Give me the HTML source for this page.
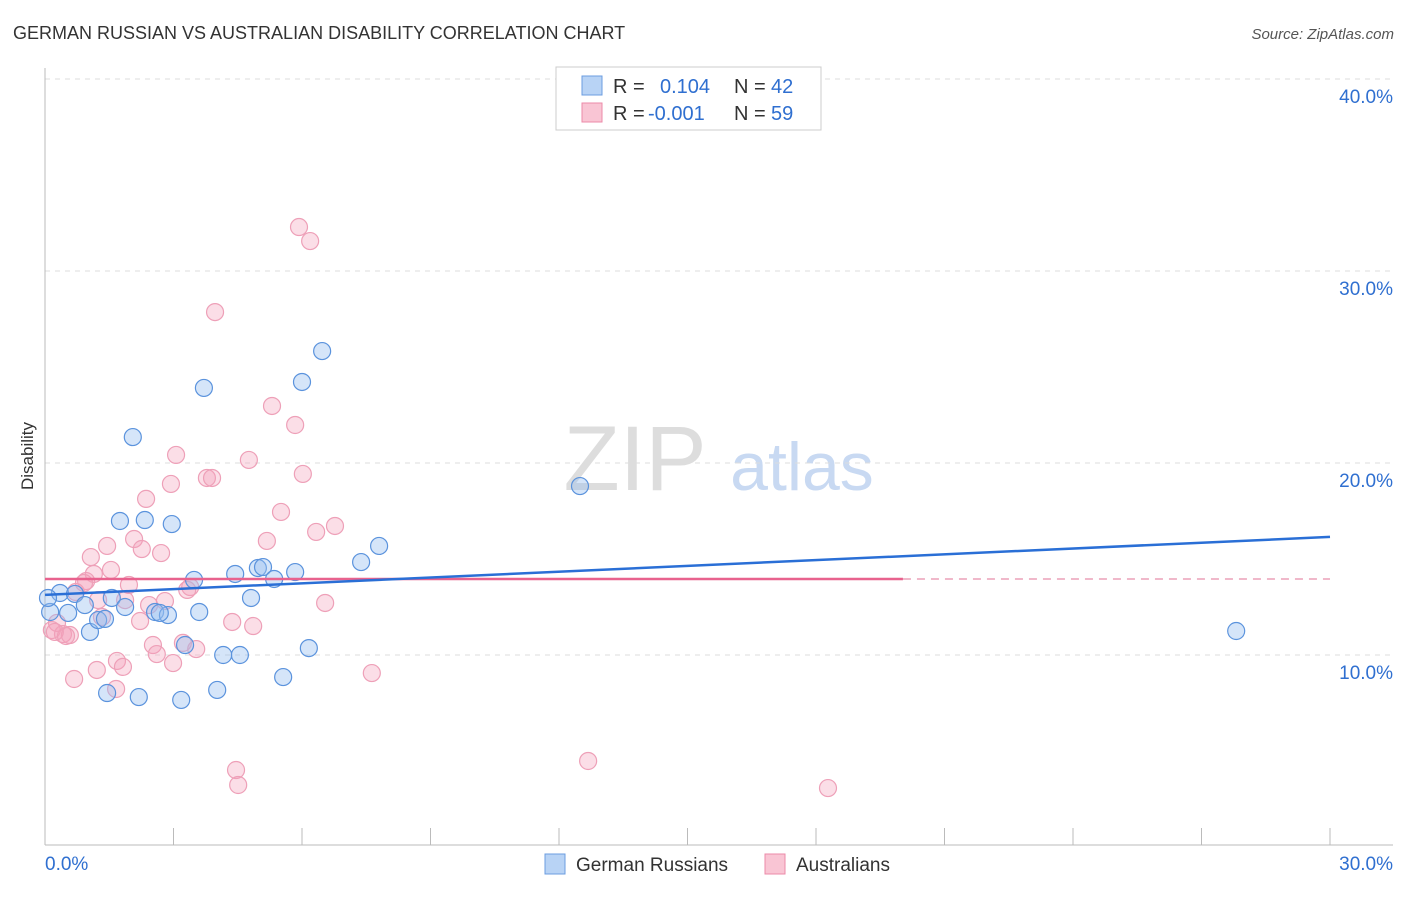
<!DOCTYPE html>
<html><head><meta charset="utf-8"><style>
body{margin:0;background:#fff;font-family:"Liberation Sans",sans-serif;}
svg text{font-family:"Liberation Sans",sans-serif;}
</style></head><body>
<svg width="1406" height="892" viewBox="0 0 1406 892">
<text x="13" y="39" font-size="18" fill="#333">GERMAN RUSSIAN VS AUSTRALIAN DISABILITY CORRELATION CHART</text>
<text x="1394" y="39" font-size="15" fill="#555" font-style="italic" text-anchor="end">Source: ZipAtlas.com</text>
<text x="33" y="456" font-size="17" fill="#333" text-anchor="middle" transform="rotate(-90 33 456)">Disability</text>
<g>
<text x="635" y="490" font-size="92" fill="#ddd" font-family="Liberation Serif,serif" text-anchor="middle">ZIP</text>
<text x="802" y="490" font-size="68" fill="#c8d9f2" text-anchor="middle">atlas</text>
</g>
<g id="grid"></g>
<g id="axes"></g>
<g id="marks"></g>
<g>
<rect x="556" y="67" width="265" height="63" fill="#fff" stroke="#ccc"/>
<rect x="582" y="76" width="20" height="19" fill="#b8d3f5" stroke="#6b9de0"/>
<rect x="582" y="103" width="20" height="19" fill="#f9c5d4" stroke="#ec8aa8"/>
<text x="613" y="93" font-size="20" fill="#333">R =</text><text x="660" y="93" font-size="20" fill="#2f6fd0">0.104</text>
<text x="734" y="93" font-size="20" fill="#333">N =</text><text x="771" y="93" font-size="20" fill="#2f6fd0">42</text>
<text x="613" y="120" font-size="20" fill="#333">R =</text><text x="648" y="120" font-size="20" fill="#2f6fd0">-0.001</text>
<text x="734" y="120" font-size="20" fill="#333">N =</text><text x="771" y="120" font-size="20" fill="#2f6fd0">59</text>
</g>
<g>
<rect x="545" y="854" width="20" height="20" fill="#b8d3f5" stroke="#6b9de0"/>
<text x="576" y="871" font-size="19" fill="#333">German Russians</text>
<rect x="765" y="854" width="20" height="20" fill="#f9c5d4" stroke="#ec8aa8"/>
<text x="796" y="871" font-size="19" fill="#333">Australians</text>
</g>
</svg>
<script>
const yTicks=[10,20,30,40];
const yTickLabels=["10.0%","20.0%","30.0%","40.0%"];
const blueX=[0.12,0.35,0.54,0.70,0.93,1.05,1.24,1.45,1.56,1.75,1.87,2.05,2.19,2.33,2.57,2.87,2.96,3.18,3.27,3.48,3.60,3.71,4.02,4.16,4.44,4.55,4.81,4.97,5.09,5.35,5.56,5.84,6.00,6.16,6.47,7.38,7.80,12.49,27.81,0.07,1.40,2.68];
const blueY=[12.24,13.23,12.19,13.18,12.60,11.20,11.82,8.02,12.97,16.98,12.50,21.35,7.81,17.03,12.24,12.08,16.82,7.66,10.52,13.91,12.24,23.91,8.18,10.00,14.22,10.00,12.97,14.53,14.58,13.96,8.85,14.32,24.22,10.36,25.83,14.84,15.68,18.80,11.25,12.97,11.88,12.19];
const pinkX=[5.93,6.19,3.97,5.30,5.84,4.76,3.06,6.02,3.78,3.90,2.94,2.36,5.51,6.77,6.33,2.08,1.45,2.26,2.71,5.18,1.07,1.54,1.14,0.96,0.91,1.96,3.39,0.72,2.80,6.54,2.43,1.87,1.33,2.22,4.37,4.86,0.28,0.16,0.42,0.58,0.23,2.52,3.22,2.61,3.53,1.68,2.99,1.21,1.82,7.63,0.68,1.66,4.46,12.68,4.51,18.28,1.24,0.49,3.32];
const pinkY=[32.29,31.56,27.86,22.97,21.98,20.16,20.42,19.43,19.22,19.22,18.91,18.13,17.45,16.72,16.41,16.04,15.68,15.52,15.31,15.94,15.10,14.43,14.22,13.85,13.75,13.65,13.54,13.28,12.81,12.71,12.60,12.86,11.98,11.77,11.72,11.51,11.67,11.30,11.09,11.04,11.20,10.52,10.63,10.05,10.31,9.69,9.58,9.22,9.38,9.06,8.75,8.23,4.01,4.48,3.23,3.07,12.86,10.99,13.39];
const blueTrend=[13.13,16.15];
const pinkTrend=[13.96,13.96];
const pinkSolidEnd=20.03;
const NS="http://www.w3.org/2000/svg";
const X=v=>45+v/30*1285, Y=v=>847-v*19.2;
function mk(p,t,a){const e=document.createElementNS(NS,t);for(const k in a)e.setAttribute(k,a[k]);p.appendChild(e);return e;}
const grid=document.getElementById('grid'),axes=document.getElementById('axes'),marks=document.getElementById('marks');
yTicks.forEach((t,i)=>{
 const l=mk(grid,'line',{x1:45,x2:1393,y1:Y(t),y2:Y(t),stroke:'#ddd','stroke-dasharray':'5,5'});
 
 
 const tx=mk(grid,'text',{x:1393,y:Y(t)+24,'font-size':19,fill:'#2f6fd0','text-anchor':'end'});
 tx.textContent=yTickLabels[i];
 
 
});
mk(axes,'line',{x1:45,x2:45,y1:68,y2:845,stroke:'#bbb'});
const xa=mk(axes,'line',{x1:45,x2:1393,y1:845,y2:845,stroke:'#bbb'});


for(let k=1;k<=10;k++){mk(axes,'line',{x1:X(k*3),x2:X(k*3),y1:828,y2:845,stroke:'#bbb'});}
let t0=mk(axes,'text',{x:45,y:870,'font-size':19,fill:'#2f6fd0'});t0.textContent='0.0%';


let t1=mk(axes,'text',{x:1393,y:870,'font-size':19,fill:'#2f6fd0','text-anchor':'end'});t1.textContent='30.0%';


pinkX.forEach((x,i)=>{const c=mk(marks,'circle',{cx:X(x),cy:Y(pinkY[i]),r:8.5,fill:'rgba(244,160,186,0.35)',stroke:'#eea0b8','stroke-width':1.2});
 
 });
blueX.forEach((x,i)=>{const c=mk(marks,'circle',{cx:X(x),cy:Y(blueY[i]),r:8.5,fill:'rgba(150,190,240,0.4)',stroke:'#5b93dd','stroke-width':1.2});
 
 });
const pl=mk(marks,'line',{x1:X(0),x2:X(pinkSolidEnd),y1:Y(pinkTrend[0]),y2:Y(pinkTrend[0]),stroke:'#e8628e','stroke-width':2.5});


mk(marks,'line',{x1:X(pinkSolidEnd),x2:X(30),y1:Y(pinkTrend[0]),y2:Y(pinkTrend[1]),stroke:'#eca0b8','stroke-width':1.5,'stroke-dasharray':'8,6'});
const bl=mk(marks,'line',{x1:X(0),x2:X(30),y1:Y(blueTrend[0]),y2:Y(blueTrend[1]),stroke:'#2a6fd6','stroke-width':2.5});


</script>
</body></html>
